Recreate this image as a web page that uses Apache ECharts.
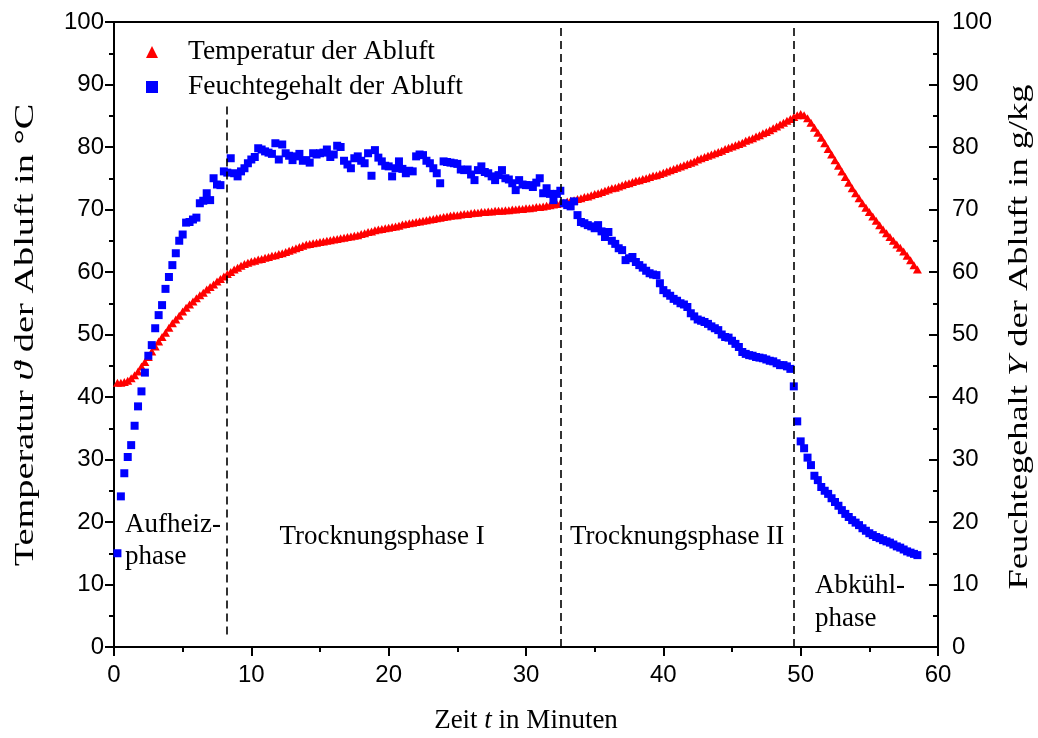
<!DOCTYPE html>
<html>
<head>
<meta charset="utf-8">
<title>Abluft: Temperatur und Feuchtegehalt</title>
<script src="https://cdn.jsdelivr.net/npm/echarts@6/dist/echarts.min.js"></script>
<style>
  html, body { margin: 0; padding: 0; background: #fff; }
  #chart { width: 1038px; height: 738px; }
</style>
</head>
<body>
<div id="chart"></div>
<script>
// Messzeitpunkte in Minuten (Abtastung alle 15 s)
const timeMin = [
  0.25,0.5,0.75,1, 1.25,1.5,1.75,2, 2.25,2.5,2.75,3, 3.25,3.5,3.75,4, 4.25,4.5,4.75,5,
  5.25,5.5,5.75,6, 6.25,6.5,6.75,7, 7.25,7.5,7.75,8, 8.25,8.5,8.75,9, 9.25,9.5,9.75,10,
  10.25,10.5,10.75,11, 11.25,11.5,11.75,12, 12.25,12.5,12.75,13, 13.25,13.5,13.75,14, 14.25,14.5,14.75,15,
  15.25,15.5,15.75,16, 16.25,16.5,16.75,17, 17.25,17.5,17.75,18, 18.25,18.5,18.75,19, 19.25,19.5,19.75,20,
  20.25,20.5,20.75,21, 21.25,21.5,21.75,22, 22.25,22.5,22.75,23, 23.25,23.5,23.75,24, 24.25,24.5,24.75,25,
  25.25,25.5,25.75,26, 26.25,26.5,26.75,27, 27.25,27.5,27.75,28, 28.25,28.5,28.75,29, 29.25,29.5,29.75,30,
  30.25,30.5,30.75,31, 31.25,31.5,31.75,32, 32.25,32.5,32.75,33, 33.25,33.5,33.75,34, 34.25,34.5,34.75,35,
  35.25,35.5,35.75,36, 36.25,36.5,36.75,37, 37.25,37.5,37.75,38, 38.25,38.5,38.75,39, 39.25,39.5,39.75,40,
  40.25,40.5,40.75,41, 41.25,41.5,41.75,42, 42.25,42.5,42.75,43, 43.25,43.5,43.75,44, 44.25,44.5,44.75,45,
  45.25,45.5,45.75,46, 46.25,46.5,46.75,47, 47.25,47.5,47.75,48, 48.25,48.5,48.75,49, 49.25,49.5,49.75,50,
  50.25,50.5,50.75,51, 51.25,51.5,51.75,52, 52.25,52.5,52.75,53, 53.25,53.5,53.75,54, 54.25,54.5,54.75,55,
  55.25,55.5,55.75,56, 56.25,56.5,56.75,57, 57.25,57.5,57.75,58, 58.25,58.5
];

// Temperatur der Abluft in °C
const tempExhaust = [
  42.3,42.3,42.4,42.6, 43.0,43.5,44.1,44.9, 45.6,46.4,47.3,48.1, 48.9,49.6,50.3,51.1, 51.8,52.4,53.0,53.7,
  54.3,54.8,55.3,55.8, 56.3,56.7,57.2,57.6, 58.0,58.5,58.9,59.3, 59.7,60.0,60.4,60.7, 61.0,61.3,61.5,61.7,
  61.8,62.0,62.1,62.3, 62.4,62.6,62.7,62.9, 63.0,63.2,63.4,63.6, 63.8,64.0,64.2,64.4, 64.5,64.6,64.7,64.8,
  64.9,65.0,65.1,65.2, 65.3,65.4,65.5,65.6, 65.7,65.8,65.9,66.1, 66.2,66.4,66.5,66.7, 66.8,66.9,67.0,67.1,
  67.2,67.3,67.4,67.6, 67.7,67.8,67.9,68.0, 68.1,68.2,68.3,68.4, 68.5,68.6,68.7,68.8, 68.9,69.0,69.1,69.1,
  69.2,69.3,69.3,69.4, 69.5,69.5,69.6,69.6, 69.7,69.7,69.8,69.8, 69.8,69.9,69.9,70.0, 70.0,70.1,70.1,70.2,
  70.2,70.3,70.4,70.4, 70.5,70.6,70.7,70.8, 70.9,71.0,71.1,71.3, 71.4,71.5,71.7,71.8, 72.0,72.1,72.3,72.5,
  72.6,72.8,73.0,73.2, 73.4,73.5,73.7,73.9, 74.1,74.2,74.4,74.6, 74.7,74.9,75.0,75.2, 75.4,75.5,75.7,75.9,
  76.1,76.3,76.5,76.7, 76.9,77.1,77.3,77.5, 77.7,78.0,78.2,78.4, 78.6,78.8,79.0,79.2, 79.4,79.7,79.9,80.1,
  80.3,80.5,80.7,81.0, 81.2,81.4,81.7,81.9, 82.2,82.4,82.7,83.0, 83.3,83.6,83.9,84.2, 84.5,84.8,85.1,85.3,
  85.1,84.6,83.9,83.1, 82.3,81.5,80.6,79.7, 78.8,77.9,77.0,76.1, 75.2,74.3,73.4,72.6, 71.8,71.0,70.3,69.6,
  68.9,68.2,67.5,66.8, 66.2,65.6,65.0,64.4, 63.9,63.3,62.6,61.9, 61.1,60.4
];

// Feuchtegehalt der Abluft in g/kg
const humidityExhaust = [
  15.0,24.1,27.8,30.4, 32.3,35.4,38.5,40.9, 43.9,46.6,48.3,51.0, 53.1,54.7,57.3,59.2, 61.1,63.0,65.0,66.0,
  67.9,68.0,68.4,68.7, 71.0,71.4,72.6,71.5, 75.0,74.0,73.9,76.1, 75.9,78.2,75.8,75.3, 76.1,76.6,77.4,78.0,
  78.4,79.8,79.6,79.3, 79.1,78.9,80.6,78.0, 80.4,79.0,78.6,77.9, 78.5,78.9,77.8,77.9, 77.5,79.0,78.8,79.0,
  79.1,79.6,78.4,78.8, 80.2,80.0,77.8,77.2, 76.6,78.2,78.5,77.8, 77.4,79.0,75.4,79.5, 78.3,77.7,77.0,76.9,
  75.3,76.6,77.7,76.5, 75.8,76.2,76.1,78.5, 78.8,78.7,77.8,77.4, 76.6,75.8,74.2,77.7, 77.6,77.5,77.4,77.3,
  76.4,76.3,76.4,75.6, 74.7,76.3,76.9,76.0, 75.8,75.3,74.7,75.5, 76.3,75.0,74.8,74.2, 73.1,74.7,74.0,73.9,
  73.9,73.6,74.3,75.0, 72.6,73.4,72.5,71.5, 72.5,73.0,71.0,70.7, 70.5,71.3,69.1,68.0, 67.8,67.5,67.3,67.0,
  67.5,66.5,65.6,66.4, 65.0,64.5,63.8,63.5, 61.9,62.2,62.4,61.6, 61.1,60.7,60.2,59.8, 59.6,59.5,58.2,57.1,
  56.6,56.2,55.7,55.4, 55.0,54.8,54.4,53.4, 52.9,52.4,52.2,52.0, 51.7,51.3,51.0,50.7, 50.0,49.6,49.5,49.0,
  48.5,48.0,47.2,46.9, 46.7,46.6,46.4,46.3, 46.2,46.0,45.8,45.7, 45.4,45.1,45.1,44.9, 44.5,41.7,36.1,32.9,
  31.8,30.3,29.1,27.4, 26.7,25.6,25.0,24.5, 23.8,23.2,22.6,21.9, 21.3,20.8,20.3,19.9, 19.5,19.0,18.6,18.2,
  17.9,17.6,17.4,17.1, 16.9,16.7,16.4,16.1, 15.9,15.6,15.3,15.1, 14.9,14.7
];

// Grenzen der Prozessphasen in Minuten
const phaseBounds = [8.2, 32.5, 49.5];

// Beschriftungen
const seriesNames = ['Temperatur der Abluft', 'Feuchtegehalt der Abluft'];

const SERIF = 'Liberation Serif, Times New Roman, serif';
const SANS = 'Liberation Sans, Arial, sans-serif';

const tempData = timeMin.map((t, i) => [t, tempExhaust[i]]);
const humData = timeMin.map((t, i) => [t, humidityExhaust[i]]);

const dashStyle = { color: '#000', width: 1.6, type: [8, 5] };
const phaseLines = [
  [{ coord: [phaseBounds[0], 2] }, { coord: [phaseBounds[0], 87] }],
  [{ coord: [phaseBounds[1], 0] }, { coord: [phaseBounds[1], 100] }],
  [{ coord: [phaseBounds[2], 0] }, { coord: [phaseBounds[2], 100] }]
];

const tickFont = { color: '#000', fontFamily: SANS, fontSize: 24 };

const axisCommon = {
  min: 0,
  max: 100,
  interval: 10,
  axisLine: { show: true, lineStyle: { color: '#000', width: 2 } },
  splitLine: { show: false },
  minorTick: { show: true, splitNumber: 2, length: 5, lineStyle: { color: '#000', width: 2 } }
};

const chart = echarts.init(document.getElementById('chart'), null, { renderer: 'canvas' });

const labelFont = { fontFamily: SERIF, fontSize: 27, fill: '#000' };

chart.setOption({
  animation: false,
  backgroundColor: '#fff',
  grid: {
    left: 114, right: 100, top: 22, bottom: 91,
    containLabel: false,
    outerBoundsMode: 'none',
    show: true, borderColor: '#000', borderWidth: 2, backgroundColor: 'transparent'
  },
  legend: {
    orient: 'vertical',
    left: 141,
    top: 32,
    itemWidth: 12,
    itemHeight: 12,
    itemGap: 5,
    data: [
      { name: seriesNames[0], icon: 'triangle' },
      { name: seriesNames[1], icon: 'rect' }
    ],
    formatter: name => '{gap|}' + name,
    textStyle: {
      color: '#000', fontFamily: SERIF, fontSize: 27.5, lineHeight: 30,
      rich: { gap: { width: 25 } }
    }
  },
  xAxis: {
    type: 'value',
    min: 0,
    max: 60,
    interval: 10,
    name: 'Zeit {i|t} in Minuten',
    nameLocation: 'middle',
    nameGap: 60,
    nameTextStyle: {
      color: '#000', fontFamily: SERIF, fontSize: 27,
      rich: { i: { fontFamily: SERIF, fontSize: 27, fontStyle: 'italic', color: '#000' } }
    },
    axisLine: { show: true, onZero: false, lineStyle: { color: '#000', width: 2 } },
    axisTick: { show: true, inside: false, length: 9, lineStyle: { color: '#000', width: 2 } },
    minorTick: { show: true, splitNumber: 2, length: 5, lineStyle: { color: '#000', width: 2 } },
    axisLabel: Object.assign({}, tickFont, { margin: 16 }),
    splitLine: { show: false }
  },
  yAxis: [
    Object.assign({}, axisCommon, {
      type: 'value',
      position: 'left',
      axisTick: { show: true, inside: false, length: 9, lineStyle: { color: '#000', width: 2 } },
      axisLabel: Object.assign({}, tickFont, { margin: 10 })
    }),
    Object.assign({}, axisCommon, {
      type: 'value',
      position: 'right',
      axisTick: { show: true, inside: true, length: 9, lineStyle: { color: '#000', width: 2 } },
      axisLabel: Object.assign({}, tickFont, { margin: 14 })
    })
  ],
  series: [
    {
      name: seriesNames[0],
      type: 'scatter',
      yAxisIndex: 0,
      symbol: 'triangle',
      symbolSize: [9, 8],
      itemStyle: { color: '#ff0000', opacity: 1 },
      data: tempData,
      markLine: {
        silent: true,
        symbol: ['none', 'none'],
        label: { show: false },
        lineStyle: dashStyle,
        emphasis: { disabled: true },
        data: phaseLines
      },
      z: 2
    },
    {
      name: seriesNames[1],
      type: 'scatter',
      yAxisIndex: 1,
      symbol: 'rect',
      symbolSize: 8,
      itemStyle: { color: '#0000ff', opacity: 1 },
      data: humData,
      z: 3
    }
  ],
  graphic: [
    // Achsentitel links und rechts (senkrecht)
    {
      type: 'text', x: 26, y: 335, rotation: Math.PI / 2, scaleX: 1.42,
      style: Object.assign({}, labelFont, {
        text: 'Temperatur {i|ϑ} der Abluft in °C',
        align: 'center', verticalAlign: 'middle',
        rich: { i: { fontFamily: SERIF, fontSize: 27, fontStyle: 'italic', fill: '#000' } }
      })
    },
    {
      type: 'text', x: 1020, y: 337, rotation: Math.PI / 2, scaleX: 1.35,
      style: Object.assign({}, labelFont, {
        text: 'Feuchtegehalt {i|Y} der Abluft in g/kg',
        align: 'center', verticalAlign: 'middle',
        rich: { i: { fontFamily: SERIF, fontSize: 27, fontStyle: 'italic', fill: '#000' } }
      })
    },
    // Phasenbezeichnungen
    { type: 'text', x: 125, y: 525, style: Object.assign({}, labelFont, { text: 'Aufheiz-', verticalAlign: 'middle' }) },
    { type: 'text', x: 125, y: 557, style: Object.assign({}, labelFont, { text: 'phase', verticalAlign: 'middle' }) },
    { type: 'text', x: 382, y: 537, style: Object.assign({}, labelFont, { text: 'Trocknungsphase I', align: 'center', verticalAlign: 'middle' }) },
    { type: 'text', x: 677, y: 537, style: Object.assign({}, labelFont, { text: 'Trocknungsphase II', align: 'center', verticalAlign: 'middle' }) },
    { type: 'text', x: 815, y: 586, style: Object.assign({}, labelFont, { text: 'Abkühl-', verticalAlign: 'middle' }) },
    { type: 'text', x: 815, y: 619, style: Object.assign({}, labelFont, { text: 'phase', verticalAlign: 'middle' }) }
  ]
});
</script>
</body>
</html>
